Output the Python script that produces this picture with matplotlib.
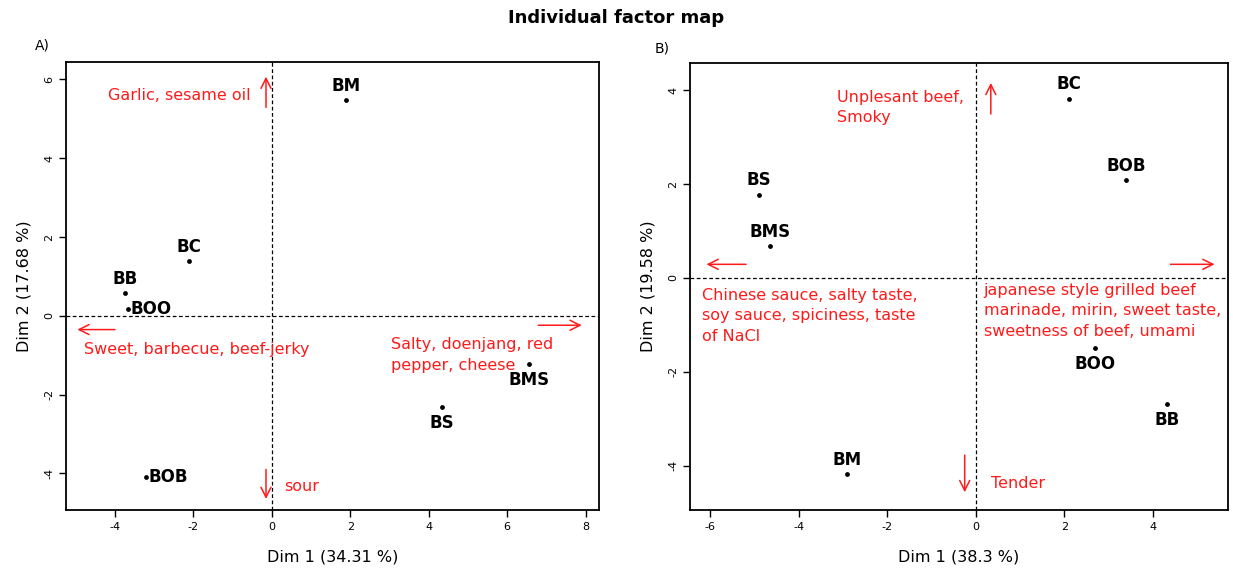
import matplotlib.pyplot as plt

plt.rcParams['font.family'] = ['DejaVu Sans']

# Panel A: individual coordinates
names_a = ['BM', 'BC', 'BB', 'BOO', 'BMS', 'BS', 'BOB']
dim1_a = [1.89, -2.11, -3.75, -3.67, 6.56, 4.33, -3.21]
dim2_a = [5.47, 1.38, 0.57, 0.18, -1.23, -2.31, -4.10]
pos_a = ['above', 'above', 'above', 'right', 'below', 'below', 'right']

# Panel B: individual coordinates
names_b = ['BC', 'BOB', 'BS', 'BMS', 'BOO', 'BB', 'BM']
dim1_b = [2.11, 3.39, -4.90, -4.65, 2.70, 4.32, -2.92]
dim2_b = [3.81, 2.08, 1.77, 0.67, -1.50, -2.69, -4.18]
pos_b = ['above', 'above', 'above', 'above', 'below', 'below', 'above']

RED = '#ff1a1a'
FS = 11.5
LS = 1.45


def draw_points(ax, xs, ys, names, pos):
    ax.scatter(xs, ys, s=6, color='black', zorder=3)
    offs = {'above': ((0, 4), 'center', 'bottom'),
            'below': ((0, -5), 'center', 'top'),
            'right': ((2, 0), 'left', 'center')}
    for x, y, n, p in zip(xs, ys, names, pos):
        off, ha, va = offs[p]
        ax.annotate(n, (x, y), xytext=off, textcoords='offset points',
                    ha=ha, va=va, fontsize=12, fontweight='bold')


def arrow(ax, x0, y0, x1, y1):
    ax.annotate('', xy=(x1, y1), xytext=(x0, y0),
                arrowprops=dict(arrowstyle='->', color=RED, lw=1.1,
                                mutation_scale=18))


def style(ax, xlim, ylim, xticks, yticks, xlabel, ylabel):
    ax.set_xlim(*xlim)
    ax.set_ylim(*ylim)
    ax.set_xticks(xticks)
    ax.set_yticks(yticks)
    ax.set_xticklabels([str(t) for t in xticks], fontsize=8)
    ax.set_yticklabels([str(t) for t in yticks], fontsize=8, rotation=90, va='center')
    ax.tick_params(direction='out', length=5, width=1)
    for s in ax.spines.values():
        s.set_linewidth(1.3)
    ax.axhline(0, color='black', ls=(0, (3, 2)), lw=0.9)
    ax.axvline(0, color='black', ls=(0, (3, 2)), lw=0.9)
    ax.set_xlabel(xlabel, fontsize=11.5, labelpad=13)
    ax.set_ylabel(ylabel, fontsize=11.5, labelpad=9)


fig = plt.figure(figsize=(12.33, 5.78), dpi=100)
fig.suptitle('Individual factor map', fontsize=13, fontweight='bold', y=0.985)

# Left panel
ax1 = fig.add_axes([0.0535, 0.1176, 0.4323, 0.775])
style(ax1, (-5.25, 8.34), (-4.93, 6.44), [-4, -2, 0, 2, 4, 6, 8],
      [-4, -2, 0, 2, 4, 6], 'Dim 1 (34.31 %)', 'Dim 2 (17.68 %)')
draw_points(ax1, dim1_a, dim2_a, names_a, pos_a)
arrow(ax1, -0.15, 5.22, -0.15, 6.14)
ax1.text(-0.53, 5.59, 'Garlic, sesame oil', color=RED, fontsize=FS, ha='right', va='center')
arrow(ax1, -3.93, -0.35, -5.03, -0.35)
ax1.text(-4.78, -0.86, 'Sweet, barbecue, beef-jerky', color=RED, fontsize=FS, ha='left', va='center')
arrow(ax1, 6.72, -0.24, 7.97, -0.24)
ax1.text(3.04, -1.0, 'Salty, doenjang, red\npepper, cheese', color=RED, fontsize=FS,
         ha='left', va='center', linespacing=LS)
arrow(ax1, -0.15, -3.83, -0.15, -4.72)
ax1.text(0.32, -4.34, 'sour', color=RED, fontsize=FS, ha='left', va='center')
fig.text(0.028, 0.915, 'A)', fontsize=10)

# Right panel
ax2 = fig.add_axes([0.5596, 0.1176, 0.4363, 0.773])
style(ax2, (-6.46, 5.7), (-4.94, 4.57), [-6, -4, -2, 0, 2, 4],
      [-4, -2, 0, 2, 4], 'Dim 1 (38.3 %)', 'Dim 2 (19.58 %)')
draw_points(ax2, dim1_b, dim2_b, names_b, pos_b)
arrow(ax2, 0.34, 3.43, 0.34, 4.21)
ax2.text(-0.27, 3.63, 'Unplesant beef,\nSmoky', color=RED, fontsize=FS,
         ha='right', va='center', multialignment='left', linespacing=LS)
arrow(ax2, -5.13, 0.29, -6.15, 0.29)
arrow(ax2, 4.34, 0.29, 5.46, 0.29)
ax2.text(-6.19, -0.81, 'Chinese sauce, salty taste,\nsoy sauce, spiciness, taste\nof NaCl',
         color=RED, fontsize=FS, ha='left', va='center', linespacing=LS)
ax2.text(0.18, -0.70, 'japanese style grilled beef\nmarinade, mirin, sweet taste,\nsweetness of beef, umami',
         color=RED, fontsize=FS, ha='left', va='center', linespacing=LS)
arrow(ax2, -0.25, -3.71, -0.25, -4.62)
ax2.text(0.34, -4.37, 'Tender', color=RED, fontsize=FS, ha='left', va='center')
fig.text(0.531, 0.91, 'B)', fontsize=10)

fig.savefig('out.png', dpi=100)
